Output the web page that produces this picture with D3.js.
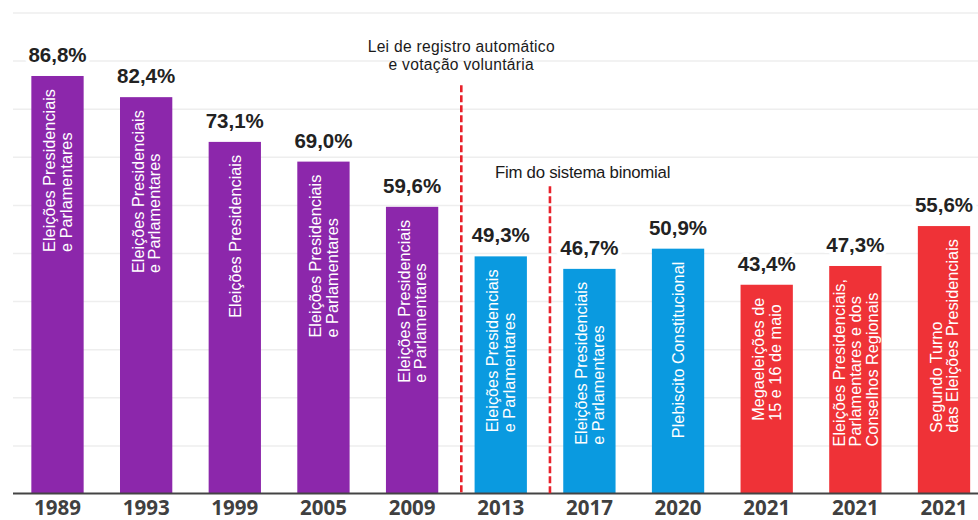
<!DOCTYPE html>
<html lang="pt">
<head>
<meta charset="utf-8">
<script src="https://cdn.jsdelivr.net/npm/d3@7"></script>
<style>
  html, body { margin: 0; padding: 0; background: #ffffff; }
  svg { display: block; }
</style>
</head>
<body>
<svg id="chart" width="978" height="520"></svg>
<script>
// Participação eleitoral no Chile (% do eleitorado)
const years = ["1989", "1993", "1999", "2005", "2009", "2013", "2017", "2020", "2021", "2021", "2021"];
const turnout = [86.8, 82.4, 73.1, 69.0, 59.6, 49.3, 46.7, 50.9, 43.4, 47.3, 55.6];
const periods = ["antes", "antes", "antes", "antes", "antes", "depois", "depois", "depois", "2021", "2021", "2021"];
const electionLabels = [
  ["Eleições Presidenciais", "e Parlamentares"],
  ["Eleições Presidenciais", "e Parlamentares"],
  ["Eleições Presidenciais"],
  ["Eleições Presidenciais", "e Parlamentares"],
  ["Eleições Presidenciais", "e Parlamentares"],
  ["Eleições Presidenciais", "e Parlamentares"],
  ["Eleições Presidenciais", "e Parlamentares"],
  ["Plebiscito Constitucional"],
  ["Megaeleições de", "15 e 16 de maio"],
  ["Eleições Presidenciais,", "Parlamentares e dos", "Conselhos Regionais"],
  ["Segundo Turno", "das Eleições Presidenciais"]
];
const gridTicks = [10, 20, 30, 40, 50, 60, 70, 80, 90, 100];
const lawNote = ["Lei de registro automático", "e votação voluntária"];
const binomialNote = "Fim do sistema binomial";

const periodColor = d3.scaleOrdinal()
  .domain(["antes", "depois", "2021"])
  .range(["#8c27ab", "#0a9ae0", "#ef3237"]);

const svg = d3.select("#chart");
const W = 978;
const gridLeft = 13;

const x = d3.scaleBand()
  .domain(d3.range(years.length))
  .range([-5, 1006.5])
  .padding(0.41);

const y = d3.scaleLinear()
  .domain([0, 100])
  .range([493.5, 12.5]);

const pt = d3.formatLocale({ decimal: ",", thousands: ".", grouping: [3], currency: ["", ""] });
const fmt = v => pt.format(".1f")(v) + "%";

// light horizontal grid every 10 points
svg.append("g")
  .attr("class", "grid")
  .attr("transform", `translate(${gridLeft},0)`)
  .call(d3.axisRight(y).tickValues(gridTicks).tickSize(W - gridLeft).tickFormat(""))
  .call(g => g.select(".domain").remove())
  .call(g => g.selectAll("line").attr("stroke", "#eeeeee").attr("stroke-width", 1.5));

// bars
svg.append("g")
  .selectAll("rect")
  .data(turnout)
  .join("rect")
  .attr("x", (d, i) => x(i))
  .attr("y", d => y(d))
  .attr("width", x.bandwidth())
  .attr("height", d => y(0) - y(d))
  .attr("fill", (d, i) => periodColor(periods[i]));

// value labels above bars
svg.append("g")
  .selectAll("text")
  .data(turnout)
  .join("text")
  .attr("x", (d, i) => x(i) + x.bandwidth() / 2)
  .attr("y", d => y(d) - 14)
  .attr("text-anchor", "middle")
  .attr("font-family", "'Liberation Sans', Arial, sans-serif")
  .attr("font-weight", 700)
  .attr("font-size", 20.5)
  .attr("fill", "#222222")
  .attr("stroke", "#ffffff")
  .attr("stroke-width", 8)
  .attr("paint-order", "stroke")
  .attr("stroke-linejoin", "round")
  .text(d => fmt(d));

// vertical election names inside the bars
const fs = 16.3, lh = 16.5, pad = 13;
svg.append("g")
  .selectAll("text")
  .data(turnout)
  .join("text")
  .attr("font-family", "'Liberation Sans', Arial, sans-serif")
  .attr("font-size", fs)
  .attr("fill", "#ffffff")
  .each(function (d, i) {
    const t = d3.select(this);
    const lines = electionLabels[i];
    const n = lines.length;
    lines.forEach((line, k) => {
      t.append("tspan")
        .attr("x", 0)
        .attr("y", (k - (n - 1) / 2) * lh + fs * 0.36)
        .text(line);
    });
    let maxLen = 0;
    t.selectAll("tspan").each(function () { maxLen = Math.max(maxLen, this.getComputedTextLength()); });
    const cx = x(i) + x.bandwidth() / 2;
    t.attr("transform", `translate(${cx},${y(d) + pad + maxLen}) rotate(-90)`);
  });

// baseline
svg.append("line")
  .attr("x1", gridLeft).attr("x2", W)
  .attr("y1", y(0)).attr("y2", y(0))
  .attr("stroke", "#444444")
  .attr("stroke-width", 2);

// year axis
svg.append("g")
  .attr("transform", `translate(0,${y(0)})`)
  .call(d3.axisBottom(x).tickSize(0).tickFormat(i => years[i]))
  .call(g => g.select(".domain").remove())
  .call(g => g.selectAll("text")
    .attr("dy", 0)
    .attr("y", 21.5)
    .attr("font-family", "'Open Sans', sans-serif")
    .attr("font-weight", 700)
    .attr("font-size", 20.5)
    .attr("fill", "#404040"));

// reform markers (dashed red lines)
const markerX = i => x(i) - x.step() * 0.15;
const dashed = [
  { idx: 5, top: 84.9 },
  { idx: 6, top: 63.9 }
];
svg.append("g")
  .selectAll("line")
  .data(dashed)
  .join("line")
  .attr("x1", d => markerX(d.idx)).attr("x2", d => markerX(d.idx))
  .attr("y1", d => y(d.top)).attr("y2", y(0))
  .attr("stroke", "#e8222b")
  .attr("stroke-width", 2.6)
  .attr("stroke-dasharray", "7,3");

// notes on the reforms, one text element per line
const noteFont = "'Liberation Sans', Arial, sans-serif";
svg.append("g")
  .selectAll("text")
  .data(lawNote)
  .join("text")
  .attr("x", markerX(5))
  .attr("y", (d, k) => 52 + k * 18)
  .attr("text-anchor", "middle")
  .attr("font-family", noteFont)
  .attr("font-size", 15.6)
  .attr("letter-spacing", 0.3)
  .attr("fill", "#1a1a1a")
  .text(d => d);

svg.append("text")
  .attr("x", markerX(6) - 55)
  .attr("y", 178)
  .attr("font-family", noteFont)
  .attr("font-size", 16.8)
  .attr("letter-spacing", -0.25)
  .attr("fill", "#1a1a1a")
  .text(binomialNote);
</script>
</body>
</html>
